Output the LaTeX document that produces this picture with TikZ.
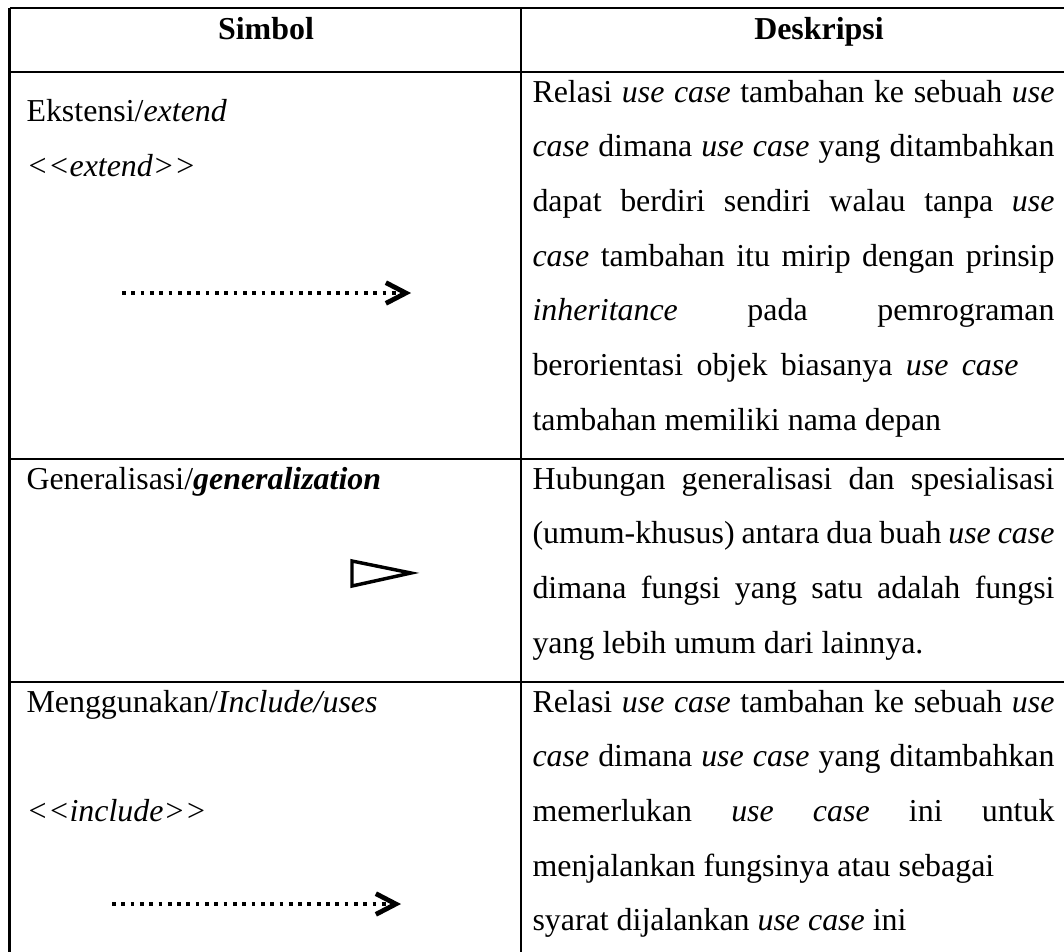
\documentclass[tikz,border=0pt]{standalone}
\usepackage{fontspec}
\setmainfont{Liberation Serif}
\usetikzlibrary{arrows.meta}
\newlength\pxu
\setlength\pxu{0.376pt}
\newcommand\jline[2]{\makebox[#1\pxu][s]{#2}}
\begin{document}
\begin{tikzpicture}[x=0.376pt,y=-0.376pt,
  gridline/.style={line width=1pt},
  txt/.style={anchor=base west, inner sep=0pt, font=\fontsize{12}{14}\selectfont},
  hd/.style={anchor=base, inner sep=0pt, font=\fontsize{12}{14}\selectfont\bfseries},
  dotarrow/.style={line width=1.5pt, dash pattern=on 1.4pt off 2.1pt,
    -{Straight Barb[length=7.5pt, width=7.8pt, line width=1.8pt]}},
  genshape/.style={line width=1.3pt, line join=miter}]
\useasboundingbox (0,0) rectangle (1064,951);
\clip (0,0) rectangle (1064,951);
% grid
\draw[gridline] (9.6,8) -- (1117,8);
\draw[gridline] (9.6,72) -- (1117,72);
\draw[gridline] (9.6,459) -- (1117,459);
\draw[gridline] (9.6,682) -- (1117,682);
\draw[gridline] (9.6,960) -- (1117,960);
\draw[gridline] (9.6,8) -- (9.6,960);
\draw[gridline] (521,8) -- (521,960);
\draw[gridline] (1117,8) -- (1117,960);
% header
\node[hd] (h1) at (266,39) {Simbol};
\node[hd] (h2) at (819,39) {Deskripsi};
% left column
\node[txt] (l1) at (26,121) {Ekstensi/\textit{extend}};
\node[txt] (l2) at (26,176) {\textit{<\kern0pt<extend>\kern0pt>}};
\node[txt] (l3) at (26,489) {Generalisasi/\textbf{\textit{generalization}}};
\node[txt] (l4) at (26,712) {Menggunakan/\textit{Include/uses}};
\node[txt] (l5) at (26,821) {\textit{<\kern0pt<include>\kern0pt>}};
% symbols
\coordinate (e1s) at (122,293);
\coordinate (e1e) at (411,293);
\draw[dotarrow] (e1s) -- (e1e);
\coordinate (g1) at (352,561);
\coordinate (g2) at (352,586);
\coordinate (g3) at (411,573);
\draw[genshape] (g1) -- (g2) -- (g3) -- cycle;
\coordinate (i1s) at (112,904);
\coordinate (i1e) at (401,904);
\draw[dotarrow] (i1s) -- (i1e);
% description row 1
\node[txt] (a1) at (532,102) {\jline{522}{Relasi \textit{use case} tambahan ke sebuah \textit{use}}};
\node[txt] (a2) at (532,156.7) {\jline{522}{\textit{case} dimana \textit{use case} yang ditambahkan}};
\node[txt] (a3) at (532,211.3) {\jline{522}{dapat berdiri sendiri walau tanpa \textit{use}}};
\node[txt] (a4) at (532,266) {\jline{522}{\textit{case} tambahan itu mirip dengan prinsip}};
\node[txt] (a5) at (532,320.7) {\jline{522}{\textit{inheritance} pada pemrograman}};
\node[txt] (a6) at (532,375.3) {\jline{486}{berorientasi objek biasanya \textit{use case}}};
\node[txt] (a7) at (532,430) {tambahan memiliki nama depan};
% description row 2
\node[txt] (b1) at (532,489) {\jline{522}{Hubungan generalisasi dan spesialisasi}};
\node[txt] (b2) at (532,543.7) {\jline{522}{(umum-khusus) antara dua buah \textit{use case}}};
\node[txt] (b3) at (532,598.3) {\jline{522}{dimana fungsi yang satu adalah fungsi}};
\node[txt] (b4) at (532,653) {yang lebih umum dari lainnya.};
% description row 3
\node[txt] (c1) at (532,712) {\jline{522}{Relasi \textit{use case} tambahan ke sebuah \textit{use}}};
\node[txt] (c2) at (532,766.7) {\jline{522}{\textit{case} dimana \textit{use case} yang ditambahkan}};
\node[txt] (c3) at (532,821.3) {\jline{522}{memerlukan \textit{use case} ini untuk}};
\node[txt] (c4) at (532,876) {menjalankan fungsinya atau sebagai};
\node[txt] (c5) at (532,930.7) {syarat dijalankan \textit{use case} ini};
\end{tikzpicture}
\end{document}
